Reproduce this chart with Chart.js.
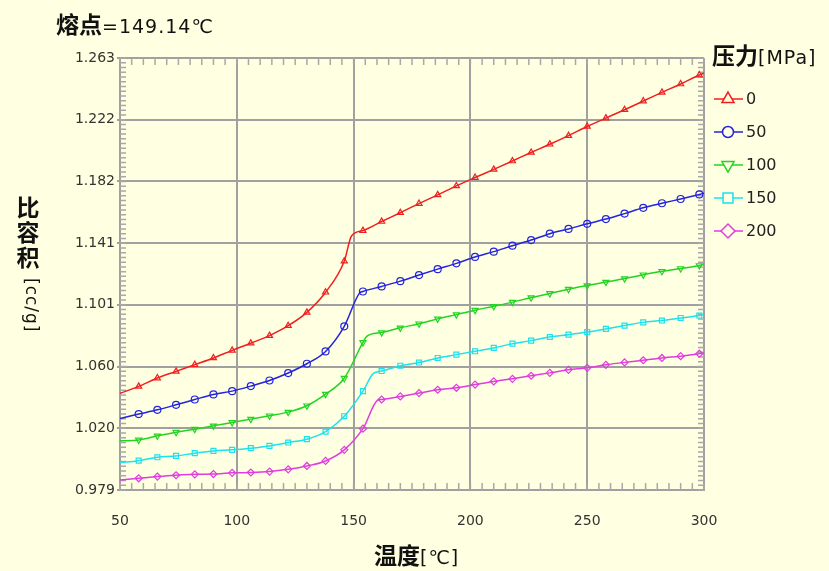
<!DOCTYPE html>
<html>
<head>
<meta charset="utf-8">
<script src="https://cdn.jsdelivr.net/npm/chart.js@4.4.0/dist/chart.umd.min.js"></script>
<style>
body { margin: 0; background: #ffffe1; }
#wrap { position: relative; width: 829px; height: 571px; overflow: hidden; font-family: "Noto Sans CJK SC", sans-serif; color: #111; }
#c { position: absolute; left: 0; top: 0; }
.lbl { position: absolute; white-space: nowrap; line-height: 1; }
.b { font-weight: bold; font-size: 23px; }
.n { font-weight: normal; font-family: "DejaVu Sans", sans-serif; font-size: 19px; letter-spacing: 1px; }
.stack { text-align: center; width: 26px; line-height: 25px; }
.rot { transform-origin: 0 0; transform: rotate(90deg); }
</style>
</head>
<body>
<div id="wrap">
  <canvas id="c" width="829" height="571"></canvas>
  <div class="lbl" style="left:56px; top:12px;"><span class="b">熔点</span><span class="n">=149.14℃</span></div>
  <div class="lbl" style="left:712px; top:43px;"><span class="b">压力</span><span class="n">[MPa]</span></div>
  <div class="lbl" style="left:374px; top:543px;"><span class="b">温度</span><span class="n">[℃]</span></div>
  <div class="lbl stack b" style="left:15px; top:194px;">比<br>容<br>积</div>
  <div class="lbl rot n" style="left:40px; top:278px; font-size:17px;">[cc/g]</div>
</div>
<script>
// 温度 (marker points, °C)
const markerTemps = [58, 66, 74, 82, 90, 98, 106, 114, 122, 130, 138, 146, 154, 162, 170,
    178, 186, 194, 202, 210, 218, 226, 234, 242, 250, 258, 266, 274, 282, 290, 298];

// 比容积 at the marker temperatures, one list per pressure
const vol0 = [1.0471, 1.0526, 1.0570, 1.0614, 1.0658, 1.0708, 1.0755, 1.0805, 1.0870, 1.0958, 1.1090, 1.1294,
    1.1495, 1.1555, 1.1613, 1.1673, 1.1730, 1.1789, 1.1844, 1.1898, 1.1953, 1.2009, 1.2063, 1.2120,
    1.2180, 1.2235, 1.2290, 1.2347, 1.2404, 1.2459, 1.2518];
const vol50 = [1.0289, 1.0317, 1.0350, 1.0385, 1.0418, 1.0440, 1.0473, 1.0510, 1.0559, 1.0620, 1.0701, 1.0866,
    1.1095, 1.1128, 1.1163, 1.1203, 1.1242, 1.1280, 1.1322, 1.1357, 1.1396, 1.1433, 1.1475, 1.1506,
    1.1540, 1.1571, 1.1607, 1.1645, 1.1675, 1.1703, 1.1733];
const vol100 = [1.0119, 1.0146, 1.0170, 1.0190, 1.0212, 1.0234, 1.0256, 1.0278, 1.0302, 1.0344, 1.0420, 1.0525,
    1.0760, 1.0825, 1.0856, 1.0883, 1.0915, 1.0943, 1.0972, 1.0998, 1.1025, 1.1055, 1.1082, 1.1110,
    1.1134, 1.1157, 1.1180, 1.1205, 1.1228, 1.1246, 1.1266];
const vol150 = [0.9983, 1.0005, 1.0014, 1.0032, 1.0047, 1.0054, 1.0065, 1.0080, 1.0102, 1.0124, 1.0174, 1.0275,
    1.0440, 1.0572, 1.0607, 1.0628, 1.0658, 1.0680, 1.0702, 1.0724, 1.0752, 1.0772, 1.0796, 1.0811,
    1.0828, 1.0849, 1.0871, 1.0892, 1.0904, 1.0921, 1.0937];
const vol200 = [0.9867, 0.9878, 0.9887, 0.9893, 0.9895, 0.9903, 0.9905, 0.9911, 0.9926, 0.9948, 0.9981, 1.0054,
    1.0193, 1.0385, 1.0405, 1.0427, 1.0449, 1.0462, 1.0483, 1.0504, 1.0521, 1.0541, 1.0560, 1.0580,
    1.0593, 1.0613, 1.0629, 1.0643, 1.0658, 1.0670, 1.0686];

// curve ends (50 / 300 °C) and transition corner, per pressure
const startVols = [1.0425, 1.0260, 1.0113, 0.9970, 0.9856];
const endVols = [1.2531, 1.1741, 1.1275, 1.0944, 1.0692];
const kinkTemps = [149.1, 152.5, 155.6, 158.4, 160.6];
const kinkVols = [1.1460, 1.1084, 1.0800, 1.0555, 1.0383];

const pressures = ['0', '50', '100', '150', '200'];
const colors = ['#f02020', '#2424dc', '#22d422', '#1ee0ee', '#e03ce0'];
const markers = ['triangle', 'circle', 'triangle', 'rect', 'rectRot'];
const markerRot = [0, 0, 180, 0, 0];

const xTicks = [50, 100, 150, 200, 250, 300];
const yTickLabels = ['0.979', '1.020', '1.060', '1.101', '1.141', '1.182', '1.222', '1.263'];
const yMin = 0.979, yMax = 1.263;

const BG = '#ffffe1';
const GRID = '#a0a0a0';

function buildPoints(i, vols) {
    const pts = [{ x: xTicks[0], y: startVols[i] }];
    markerTemps.forEach((t, k) => pts.push({ x: t, y: vols[k], m: true }));
    pts.push({ x: kinkTemps[i], y: kinkVols[i] });
    pts.push({ x: xTicks[xTicks.length - 1], y: endVols[i] });
    pts.sort((a, b) => a.x - b.x);
    return pts;
}

const allVols = [vol0, vol50, vol100, vol150, vol200];
const datasets = allVols.map((vols, i) => ({
    label: pressures[i],
    data: buildPoints(i, vols),
    borderColor: colors[i],
    borderWidth: 1.5,
    pointStyle: markers[i],
    pointRotation: markerRot[i],
    pointBorderColor: colors[i],
    pointBackgroundColor: 'rgba(0,0,0,0)',
    pointBorderWidth: 1.2,
    pointRadius: ctx => (ctx.raw && ctx.raw.m ? 3.5 : 0),
    cubicInterpolationMode: 'monotone'
}));

// petites graduations vers l'intérieur sur les quatre bords
const minorTicks = {
    id: 'minorTicks',
    beforeDatasetsDraw(chart) {
        const { ctx, chartArea: a, scales: { x, y } } = chart;
        ctx.save();
        ctx.strokeStyle = '#a8a8a8';
        ctx.lineWidth = 1.5;
        ctx.beginPath();
        for (let t = xTicks[0]; t <= xTicks[xTicks.length - 1]; t += 5) {
            const px = x.getPixelForValue(t);
            ctx.moveTo(px, a.top); ctx.lineTo(px, a.top + 7);
            ctx.moveTo(px, a.bottom); ctx.lineTo(px, a.bottom - 7);
        }
        const sub = 13;
        const step = (yMax - yMin) / 7 / sub;
        for (let k = 0; k <= 7 * sub; k++) {
            const py = y.getPixelForValue(yMin + k * step);
            ctx.moveTo(a.left, py); ctx.lineTo(a.left + 6, py);
            ctx.moveTo(a.right, py); ctx.lineTo(a.right - 6, py);
        }
        ctx.stroke();
        ctx.restore();
    }
};

// légende : trait + symbole + valeur
const legendBox = {
    id: 'legendBox',
    afterDraw(chart) {
        const ctx = chart.ctx;
        chart.data.datasets.forEach((ds, i) => {
            const yy = 99 + i * 33;
            ctx.save();
            ctx.strokeStyle = ds.borderColor;
            ctx.lineWidth = 1.5;
            ctx.beginPath();
            ctx.moveTo(714, yy); ctx.lineTo(743, yy);
            ctx.stroke();
            ctx.fillStyle = BG;
            const r = ds.pointStyle === 'circle' ? 5.5 : 7;
            Chart.helpers.drawPoint(ctx, { pointStyle: ds.pointStyle, rotation: ds.pointRotation, radius: r, borderWidth: 1.5 }, 728, yy);
            ctx.fillStyle = '#222';
            ctx.font = '16px "DejaVu Sans"';
            ctx.textBaseline = 'middle';
            ctx.fillText(ds.label, 746, yy + 1);
            ctx.restore();
        });
    }
};

new Chart(document.getElementById('c'), {
    type: 'line',
    data: { datasets },
    options: {
        responsive: false,
        animation: false,
        layout: { padding: { left: 50, right: 125, top: 58, bottom: 41 } },
        plugins: { legend: { display: false }, tooltip: { enabled: false } },
        scales: {
            x: {
                type: 'linear',
                min: xTicks[0],
                max: xTicks[xTicks.length - 1],
                afterBuildTicks: s => { s.ticks = xTicks.map(v => ({ value: v })); },
                ticks: { padding: 23, color: '#333', font: { family: 'DejaVu Sans', size: 14 } },
                grid: { color: GRID, lineWidth: 2, drawTicks: false },
                border: { color: GRID, width: 2 },
                afterFit: s => { s.height = 40; }
            },
            y: {
                type: 'linear',
                min: yMin,
                max: yMax,
                ticks: {
                    stepSize: (yMax - yMin) / 7,
                    padding: 2,
                    color: '#333',
                    font: { family: 'DejaVu Sans', size: 14 },
                    callback: (v, i) => yTickLabels[i]
                },
                grid: { color: GRID, lineWidth: 2, tickLength: 3 },
                border: { color: GRID, width: 2 },
                afterFit: s => { s.width = 70; }
            }
        }
    },
    plugins: [minorTicks, legendBox]
});
</script>
</body>
</html>
